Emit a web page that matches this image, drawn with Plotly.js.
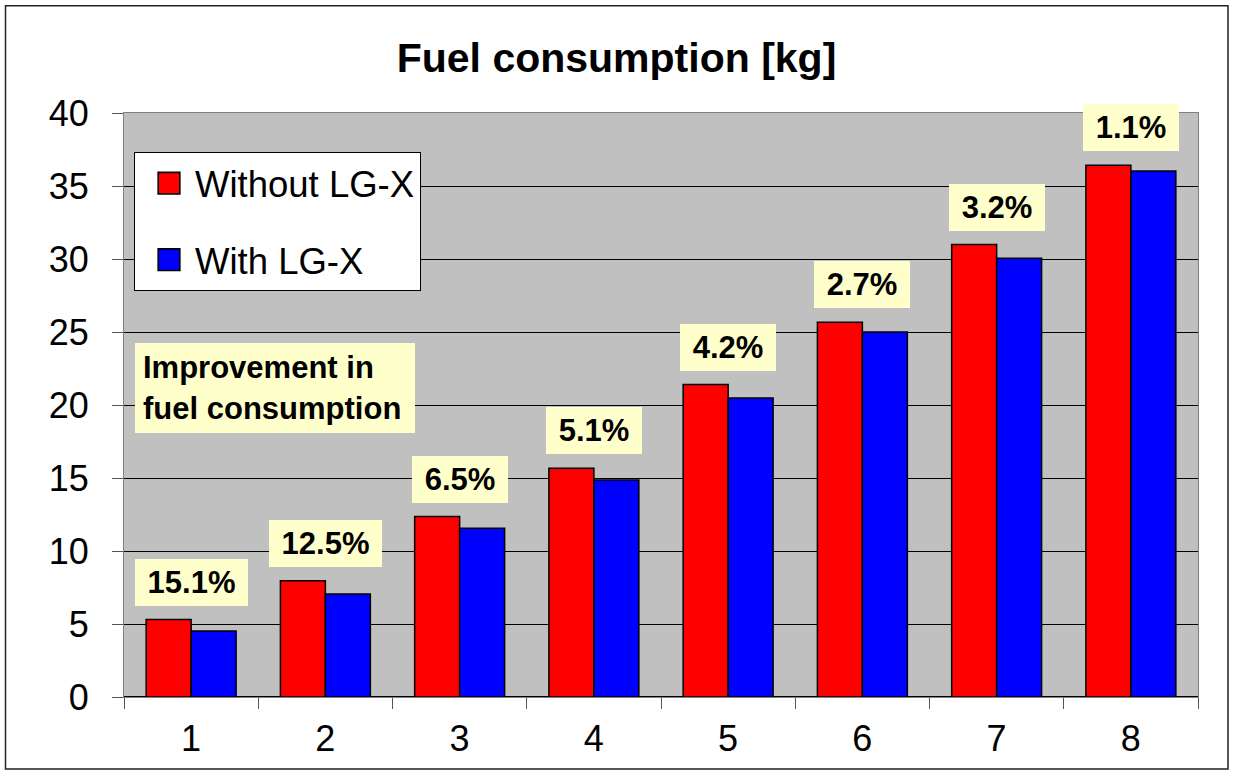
<!DOCTYPE html>
<html>
<head>
<meta charset="utf-8">
<script src="https://cdn.plot.ly/plotly-3.0.1.min.js"></script>
<style>
html,body{margin:0;padding:0;background:#fff;}
#chart{width:1233px;height:771px;}
</style>
</head>
<body>
<div id="chart"></div>
<script>
// ---- data ----
const categories = ['1','2','3','4','5','6','7','8'];
const withoutLGX = [5.3, 7.97, 12.36, 15.66, 21.4, 25.66, 30.99, 36.42];
const withLGX    = [4.52, 7.05, 11.55, 14.86, 20.48, 25.0, 30.05, 36.03];
const improvementLabels = ['15.1%','12.5%','6.5%','5.1%','4.2%','2.7%','3.2%','1.1%'];
const seriesNames = ['Without LG-X', 'With LG-X'];
const chartTitle = 'Fuel consumption [kg]';
const noteText = 'Improvement in<br>fuel consumption';

// ---- layout geometry (pixels) ----
const W = 1233, H = 771;
const plotL = 124, plotR = 1198, plotT = 113, plotB = 697;
const pw = plotR - plotL, ph = plotB - plotT;
const px2x = p => (p - plotL) / pw;
const px2y = p => (plotB - p) / ph;

const FONT = 'Liberation Sans, Arial, sans-serif';

function textWidth(txt, font) {
  const c = document.createElement('canvas').getContext('2d');
  c.font = font;
  return c.measureText(txt).width;
}

const traces = [
  {
    type: 'bar', name: seriesNames[0], x: categories, y: withoutLGX,
    marker: {color: '#FF0000', line: {color: '#000', width: 1.5}},
    legendgroup: 'a', hoverinfo: 'skip'
  },
  {
    type: 'bar', name: seriesNames[1], x: categories, y: withLGX,
    marker: {color: '#0000FF', line: {color: '#000', width: 1.5}},
    legendgroup: 'b', hoverinfo: 'skip'
  }
];

const annFont = 31;
const annotations = improvementLabels.map((t, i) => ({
  x: i, y: withoutLGX[i], xref: 'x', yref: 'y',
  text: '<b>' + t + '</b>', showarrow: false,
  yanchor: 'bottom', xanchor: 'center', yshift: 14,
  font: {family: FONT, size: annFont, color: '#000'},
  bgcolor: '#FFFFCC', borderpad: 0, borderwidth: 0,
  width: Math.round(textWidth(t, 'bold ' + annFont + 'px Liberation Sans') + 25),
  height: 47
}));

annotations.push({
  xref: 'paper', yref: 'paper', x: px2x(135), y: px2y(343),
  xanchor: 'left', yanchor: 'top', align: 'left',
  text: '<b>' + noteText + '</b>', showarrow: false,
  font: {family: FONT, size: 31, color: '#000'},
  bgcolor: '#FFFFCC', borderpad: 8, borderwidth: 0,
  width: 264, height: 74
});

const layout = {
  width: W, height: H,
  margin: {l: plotL, r: W - plotR, t: plotT, b: H - plotB, pad: 0},
  paper_bgcolor: '#FFFFFF',
  plot_bgcolor: '#C0C0C0',
  font: {family: FONT, color: '#000'},
  title: {
    text: '<b>' + chartTitle + '</b>',
    font: {family: FONT, size: 41, color: '#000'},
    x: 0.5, xref: 'container', xanchor: 'center',
    y: 1 - 58 / H, yref: 'container', yanchor: 'middle'
  },
  barmode: 'group', bargap: 0.33, bargroupgap: 0,
  showlegend: true,
  legend: {
    x: px2x(134), y: px2y(152), xanchor: 'left', yanchor: 'top',
    bgcolor: '#FFFFFF', bordercolor: '#000', borderwidth: 1,
    font: {family: FONT, size: 36.5, color: '#000'},
    traceorder: 'grouped', tracegroupgap: 26, itemwidth: 50
  },
  xaxis: {
    type: 'category', tickson: 'boundaries',
    ticks: 'outside', ticklen: 11, tickcolor: '#555', tickwidth: 1,
    showline: true, linecolor: '#808080', linewidth: 1, mirror: true,
    showgrid: false, zeroline: false,
    tickfont: {family: FONT, size: 36, color: '#000'},
    ticklabelstandoff: 10, fixedrange: true
  },
  yaxis: {
    range: [0, 40], dtick: 5, tick0: 0,
    ticks: 'outside', ticklen: 11, tickcolor: '#555', tickwidth: 1,
    showline: true, linecolor: '#808080', linewidth: 1, mirror: true,
    showgrid: true, gridcolor: '#000', gridwidth: 1,
    zeroline: true, zerolinecolor: '#000', zerolinewidth: 1.5,
    tickfont: {family: FONT, size: 36, color: '#000'},
    ticklabelstandoff: 16, fixedrange: true
  },
  shapes: [{
    type: 'rect', xref: 'paper', yref: 'paper',
    x0: px2x(5.5), x1: px2x(1228), y0: px2y(769), y1: px2y(5.7),
    line: {color: '#222', width: 1.5}, fillcolor: 'rgba(0,0,0,0)', layer: 'above'
  }],
  annotations: annotations
};

Plotly.newPlot('chart', traces, layout, {displayModeBar: false, staticPlot: true}).then(gd => {
  // enlarge the legend swatches to match the reference
  gd.querySelectorAll('.legend .legendpoints path').forEach(p => {
    const t = p.getAttribute('transform') || '';
    p.setAttribute('transform', t + ' translate(4,0) scale(1.8)');
    p.style.strokeWidth = '0.9px';
  });
});
</script>
</body>
</html>
